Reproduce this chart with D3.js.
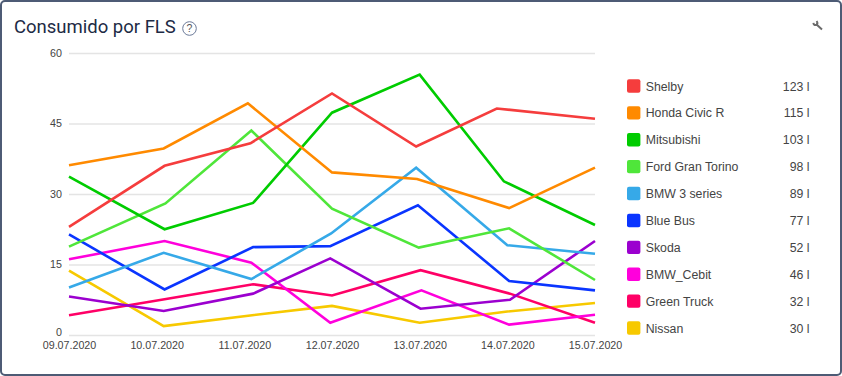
<!DOCTYPE html>
<html>
<head>
<meta charset="utf-8">
<script src="https://cdn.jsdelivr.net/npm/d3@7"></script>
<style>
  html, body { margin: 0; padding: 0; background: #fff; overflow: hidden; }
  svg { display: block; }
  text { font-family: "Liberation Sans", Arial, sans-serif; }
  .chart-title { font-family: Roboto, sans-serif; font-size: 18.5px; fill: #1d2b45; }
  .axis text { font-size: 10.7px; fill: #444; }
  .axis line { stroke: #e4e4e4; stroke-width: 1.5; }
  .legend text { font-size: 12.3px; fill: #444; }
</style>
</head>
<body>
<svg id="chart" width="842" height="376"></svg>
<script>
const dates = ['09.07.2020', '10.07.2020', '11.07.2020', '12.07.2020', '13.07.2020', '14.07.2020', '15.07.2020'];
const yTicks = [0, 15, 30, 45, 60];

const names = ['Shelby', 'Honda Civic R', 'Mitsubishi', 'Ford Gran Torino', 'BMW 3 series', 'Blue Bus', 'Skoda', 'BMW_Cebit', 'Green Truck', 'Nissan'];
const totals = ['123 l', '115 l', '103 l', '98 l', '89 l', '77 l', '52 l', '46 l', '32 l', '30 l'];
const colors = ['#f53d3d', '#ff8a00', '#00cc00', '#4fe63a', '#36a9e8', '#0a35ff', '#9b00cf', '#ff00dc', '#ff0066', '#f7c900'];

// values per series
const shelby = [23, 36, 40.8, 51.4, 40.1, 48.2, 46];
const honda = [36.1, 39.7, 49.3, 34.6, 33.2, 27, 35.6];
const mitsubishi = [33.7, 22.5, 28.1, 47.3, 55.4, 32.7, 23.4];
const ford = [18.8, 28, 43.5, 26.9, 18.6, 22.7, 11.7];
const bmw3 = [10.1, 17.5, 11.9, 21.6, 35.6, 19.1, 17.3];
const blueBus = [21.4, 9.7, 18.7, 18.9, 27.6, 11.5, 9.5];
const skoda = [8.2, 5.1, 8.8, 16.3, 5.6, 7.5, 20];
const bmwCebit = [16.1, 20, 15.4, 2.6, 9.5, 2.2, 4.3];
const greenTruck = [4.2, 7.6, 10.8, 8.4, 13.8, 8.8, 2.6];
const nissan = [13.7, 1.9, 4.2, 6.2, 2.6, 5, 6.8];

// reading times in days since the first date, they differ a bit per vehicle
const shelbyDays = [0, 1.09, 2.07, 3, 3.96, 4.88, 6];
const hondaDays = [0, 1.08, 2.04, 3, 3.97, 5.02, 6];
const mitsubishiDays = [0, 1.09, 2.1, 3, 4, 4.96, 6];
const fordDays = [0, 1.1, 2.08, 3, 3.99, 5.02, 6];
const bmw3Days = [0, 1.08, 2.08, 2.99, 3.96, 5, 6];
const blueBusDays = [0, 1.09, 2.1, 2.98, 3.98, 5.02, 6];
const skodaDays = [0, 1.08, 2.1, 2.98, 4.01, 5.03, 6];
const bmwCebitDays = [0, 1.09, 2.08, 2.98, 4.02, 5.02, 6];
const greenTruckDays = [0, 1.09, 2.1, 3, 4.01, 5.03, 6];
const nissanDays = [0, 1.08, 2.09, 3, 4, 5, 6];

const allValues = [shelby, honda, mitsubishi, ford, bmw3, blueBus, skoda, bmwCebit, greenTruck, nissan];
const allDays = [shelbyDays, hondaDays, mitsubishiDays, fordDays, bmw3Days, blueBusDays, skodaDays, bmwCebitDays, greenTruckDays, nissanDays];

const series = names.map((name, i) => ({
  name: name,
  total: totals[i],
  color: colors[i],
  points: allValues[i].map((v, j) => ({day: allDays[i][j], value: v}))
}));

const margin = {top: 53, right: 247, bottom: 41, left: 69};
const width = 842 - margin.left - margin.right;
const height = 376 - margin.top - margin.bottom;

const svg = d3.select('#chart');

// card border
svg.append('rect')
  .attr('x', 1)
  .attr('y', 1)
  .attr('width', 840)
  .attr('height', 374)
  .attr('rx', 4)
  .attr('fill', '#fff')
  .attr('stroke', '#4d5b75')
  .attr('stroke-width', 2);

svg.append('text')
  .attr('class', 'chart-title')
  .attr('x', 14)
  .attr('y', 33)
  .text('Consumido por FLS');

// help icon
const help = svg.append('g').attr('transform', 'translate(189.5,28.5)');
help.append('circle')
  .attr('r', 6.8)
  .attr('fill', 'none')
  .attr('stroke', '#6b7a99')
  .attr('stroke-width', 1);
help.append('text')
  .attr('y', 3.7)
  .attr('text-anchor', 'middle')
  .attr('font-size', 10.5)
  .attr('fill', '#555')
  .text('?');

// wrench icon
svg.append('path')
  .attr('d', 'M822 29.5 L816.6 24.6 M813.4 22.8 Q813.8 26 816.6 24.6 Q818.2 23.2 816.6 21')
  .attr('fill', 'none')
  .attr('stroke', '#6b6b6b')
  .attr('stroke-width', 2);

const chart = svg.append('g')
  .attr('transform', `translate(${margin.left},${margin.top})`);

const xScale = d3.scaleLinear()
  .domain([0, dates.length - 1])
  .range([0, width]);

const yScale = d3.scaleLinear()
  .domain([0, 60])
  .range([height, 0]);

const yAxis = d3.axisLeft(yScale)
  .tickValues(yTicks)
  .tickSize(-width)
  .tickPadding(7);

const xAxis = d3.axisBottom(xScale)
  .tickValues(d3.range(dates.length))
  .tickFormat(i => dates[i])
  .tickSize(0)
  .tickPadding(6);

chart.append('g')
  .attr('class', 'axis y-axis')
  .call(yAxis)
  .call(g => g.select('.domain').remove())
  // the zero label sits a bit above its gridline so it clears the date below
  .call(g => g.selectAll('.tick text').filter(d => d === 0).attr('dy', '0.05em'));

chart.append('g')
  .attr('class', 'axis x-axis')
  .attr('transform', `translate(0,${height})`)
  .call(xAxis)
  .call(g => g.select('.domain').remove());

const line = d3.line()
  .x(d => xScale(d.day))
  .y(d => yScale(d.value));

// first series on top, same as the reference
chart.selectAll('.series')
  .data(series.slice().reverse())
  .join('path')
  .attr('class', 'series')
  .attr('d', d => line(d.points))
  .attr('fill', 'none')
  .attr('stroke', d => d.color)
  .attr('stroke-width', 2.6)
  .attr('stroke-linejoin', 'miter');

const legendY = d3.scalePoint()
  .domain(names)
  .range([86, 328]);

const legend = svg.append('g').attr('class', 'legend');

const rows = legend.selectAll('g')
  .data(series)
  .join('g')
  .attr('transform', d => `translate(627,${legendY(d.name)})`);

rows.append('rect')
  .attr('y', -6.7)
  .attr('width', 13.4)
  .attr('height', 13.4)
  .attr('rx', 2)
  .attr('fill', d => d.color);

rows.append('text')
  .attr('x', 18.7)
  .attr('y', 4.5)
  .text(d => d.name);

rows.append('text')
  .attr('x', 182.5)
  .attr('y', 4.5)
  .attr('text-anchor', 'end')
  .text(d => d.total);
</script>
</body>
</html>
